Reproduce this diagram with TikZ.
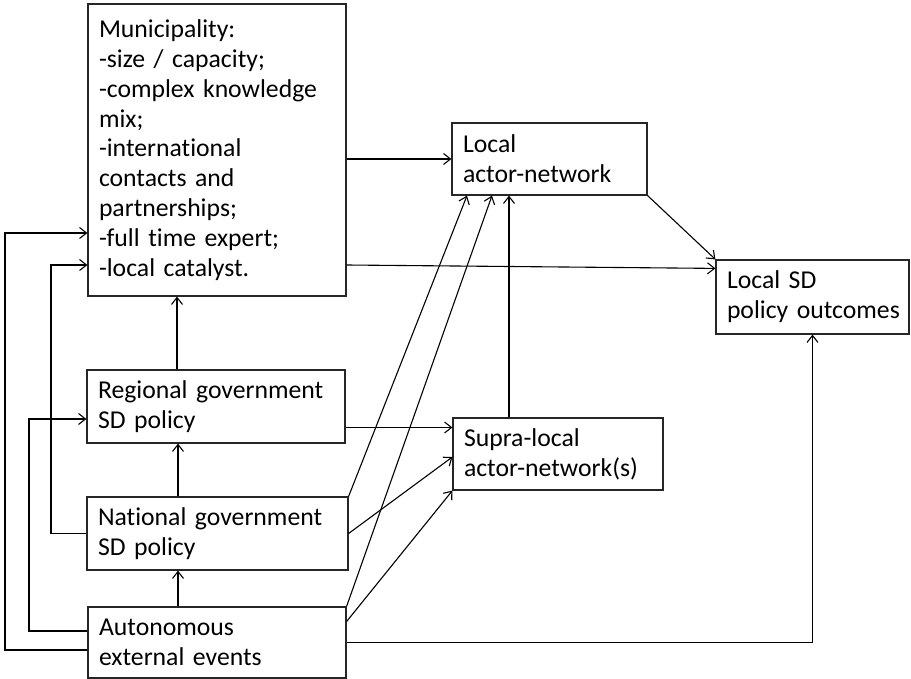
\documentclass[tikz,border=0pt]{standalone}
\usepackage{fontspec}
\setmainfont{Carlito}[Ligatures=NoCommon]
\usetikzlibrary{arrows.meta,calc}
\begin{document}
\begin{tikzpicture}[x=1pt,y=-1pt,
  box/.style={draw=black!85, line width=1.2pt, inner xsep=11pt, inner ysep=2pt, align=left,
    font=\fontsize{25.7}{29.8}\selectfont,
    execute at begin node={\hyphenpenalty=10000\exhyphenpenalty=10000}},
  arr/.style={line width=1.1pt, -{Straight Barb[length=7pt,width=11pt]}},
  ln/.style={line width=1.1pt}]
\useasboundingbox (0,0) rectangle (911,679);
\node[box, text width=236pt, minimum height=292pt] (M) at (217,150)
  {Municipality:\\-size / capacity;\\\mbox{-complex knowledge}\\mix;\\-international\\contacts and\\partnerships;\\\mbox{-full time expert;}\\-local catalyst.};
\node[box, text width=173pt, minimum height=72pt] (L) at (549.5,159) {Local\\\mbox{actor-network}};
\node[box, text width=171pt, minimum height=74pt] (O) at (812.5,297) {Local SD\\\mbox{policy outcomes}};
\node[box, text width=236pt, minimum height=73pt] (R) at (216,406.5) {\mbox{Regional government}\\SD policy};
\node[box, text width=239pt, minimum height=73pt] (N) at (217.5,533.5) {\mbox{National government}\\SD policy};
\node[box, text width=236pt, minimum height=71pt] (A) at (217,642.5) {Autonomous\\\mbox{external events}};
\node[box, text width=188pt, minimum height=72pt] (S) at (558,454) {Supra-local\\\mbox{actor-network(s)}};

% right side arrows
\draw[arr] (M.east |- L.west) -- (L.west);
\draw[arr] ([yshift=-115pt]M.east) -- ([yshift=-9pt]O.north west);
\draw[arr] (L.south east) -- (O.north west);
\draw[arr] ([xshift=-49pt]S.north) -- ([xshift=-49pt]S.north |- L.south);
\draw[arr] ([yshift=-21pt]R.east) -- ([yshift=-21pt]R.east -| S.west);
\draw[arr] (N.east) -- ([yshift=-3pt]S.west);
\draw[arr] ([yshift=21pt]A.east) -- (S.south west);
\draw[arr] (N.north east) -- ([xshift=-82.5pt]L.south);
\draw[arr] (A.north east) -- ([xshift=-57.5pt]L.south);
\draw[arr] (A.east) -| (O.south);

% vertical chain
\draw[arr] ([xshift=-39pt]R.north) -- ([xshift=-39pt]R.north |- M.south);
\draw[arr] ([xshift=-39.5pt]N.north) -- ([xshift=-39.5pt]N.north |- R.south);
\draw[arr] ([xshift=-39pt]A.north) -- ([xshift=-39pt]A.north |- N.south);

% left feedback lines
\coordinate (o1) at (5,650);
\coordinate (o2) at (29,631);
\coordinate (o3) at (51,533.5);
\draw[arr] ([yshift=-7.5pt]A.west) -- ([yshift=-7.5pt]A.west -| o1) -- (o1 |- 0,233) -- ([yshift=-83pt]M.west);
\draw[arr] ([yshift=11.5pt]A.west) -- ([yshift=11.5pt]A.west -| o2) -- (o2 |- 0,419) -- ([yshift=-12.5pt]R.west);
\draw[arr] (N.west) -- (N.west -| o3) -- (o3 |- 0,265) -- ([yshift=-115pt]M.west);
\end{tikzpicture}
\end{document}
